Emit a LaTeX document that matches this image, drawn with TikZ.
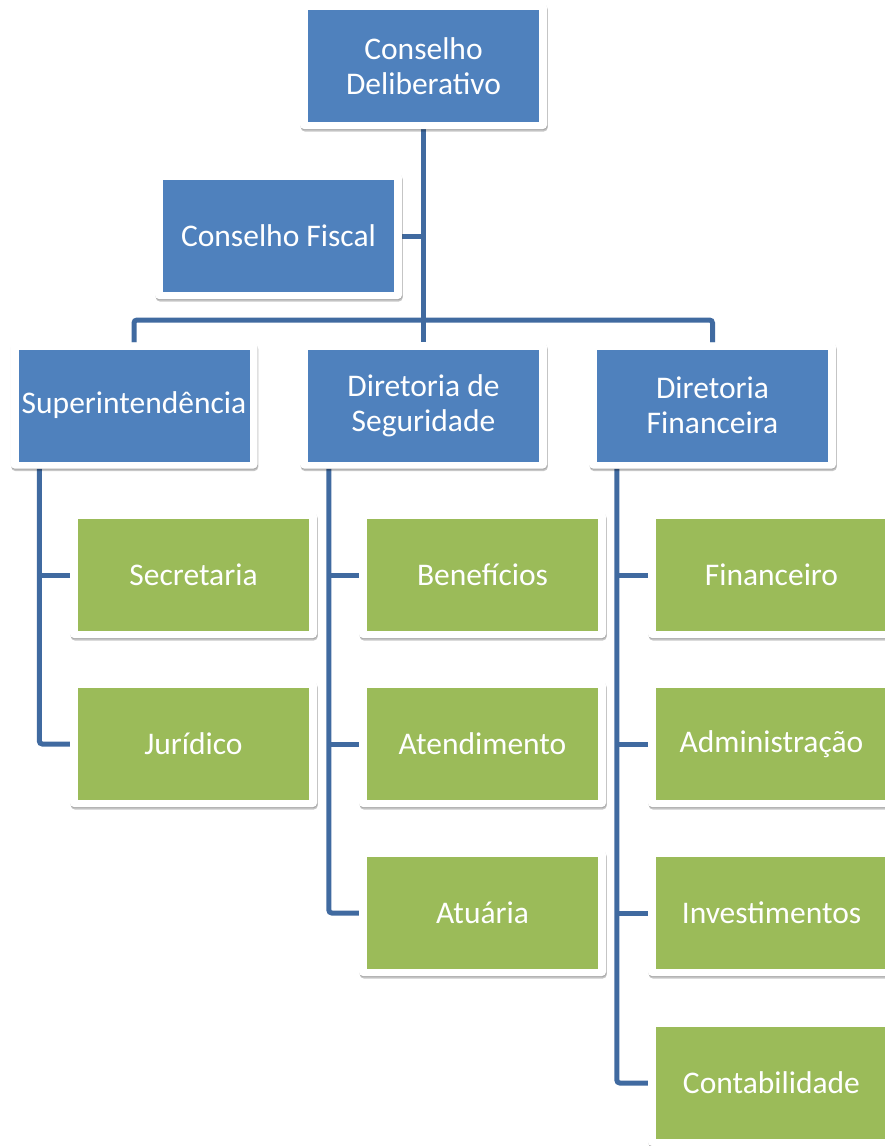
\documentclass[tikz,border=0pt]{standalone}
\usepackage{fontspec}
\setmainfont{Carlito}
\usetikzlibrary{shadows,calc}
\definecolor{boxblue}{RGB}{79,129,189}
\definecolor{boxgreen}{RGB}{155,187,89}
\definecolor{linkblue}{RGB}{64,106,160}
\pgfdeclarelayer{background}
\pgfsetlayers{background,main}
\tikzset{
  frame/.style={fill=white, rounded corners=4pt, minimum width=247pt, minimum height=126pt, inner sep=0pt,
    drop shadow={shadow xshift=0.8pt, shadow yshift=-2.5pt, opacity=0.22, fill=black},
    drop shadow={shadow xshift=0.4pt, shadow yshift=-1.2pt, opacity=0.15, fill=black}},
  bluebox/.style={fill=boxblue, minimum width=231pt, minimum height=112pt, inner sep=0pt, text=white,
    align=center, font=\fontsize{31.5}{35}\selectfont},
  greenbox/.style={bluebox, fill=boxgreen},
  link/.style={draw=linkblue, line width=5pt, rounded corners=3pt}
}
\begin{document}
\begin{tikzpicture}[x=1pt,y=-1pt]
\useasboundingbox (0,0) rectangle (885,1146);
% blue boxes
\node[frame] (cdf) at (423.5,66) {};
\node[bluebox] (cd) at (cdf) {Conselho\\Deliberativo};
\node[frame] (cff) at (278.5,236) {};
\node[bluebox] (cf) at (cff) {Conselho Fiscal};
\node[frame] (supf) at (134,405.5) {};
\node[bluebox] (sup) at (supf) {Superintendência};
\node[frame] (dsf) at (423.5,405.5) {};
\node[bluebox] (ds) at (dsf) {Diretoria de\\Seguridade};
\node[frame] (dff) at (712.5,405.5) {};
\node[bluebox] (df) at (dff) {Diretoria\\Financeira};
% green boxes left
\node[frame] (secf) at (193.5,575) {};
\node[greenbox] (sec) at (secf) {Secretaria};
\node[frame] (jurf) at (193.5,744) {};
\node[greenbox] (jur) at (jurf) {Jurídico};
% middle
\node[frame] (benf) at (482.5,575) {};
\node[greenbox] (ben) at (benf) {Benefícios};
\node[frame] (atef) at (482.5,744) {};
\node[greenbox] (ate) at (atef) {Atendimento};
\node[frame] (atuf) at (482.5,913) {};
\node[greenbox] (atu) at (atuf) {Atuária};
% right
\node[frame] (finf) at (771.5,575) {};
\node[greenbox] (fin) at (finf) {Financeiro};
\node[frame] (admf) at (771.5,744) {};
\node[greenbox] (adm) at (admf) {Administração};
\node[frame] (invf) at (771.5,913) {};
\node[greenbox] (inv) at (invf) {Investimentos};
\node[frame] (conf) at (771.5,1083) {};
\node[greenbox] (con) at (conf) {Contabilidade};
% connectors (behind the boxes)
\coordinate (hub) at (dsf.north |- 0,320);
\coordinate (lx) at ($(supf.south west)+(29,0)$);
\coordinate (mx) at ($(dsf.south west)+(29,0)$);
\coordinate (rx) at ($(dff.south west)+(28,0)$);
\begin{pgfonlayer}{background}
\draw[link] (cdf.south) -- (dsf.north);
\draw[link] (cff.east) -- (cff.east -| cdf.south);
\draw[link] (supf.north) |- (hub) -| (dff.north);
\draw[link] (lx) |- (jurf.west);
\draw[link] (sec.west -| lx) -- (secf.west);
\draw[link] (mx) |- (atuf.west);
\draw[link] (ben.west -| mx) -- (benf.west);
\draw[link] (ate.west -| mx) -- (atef.west);
\draw[link] (rx) |- (conf.west);
\draw[link] (fin.west -| rx) -- (finf.west);
\draw[link] (adm.west -| rx) -- (admf.west);
\draw[link] (inv.west -| rx) -- (invf.west);
\end{pgfonlayer}
\end{tikzpicture}
\end{document}
